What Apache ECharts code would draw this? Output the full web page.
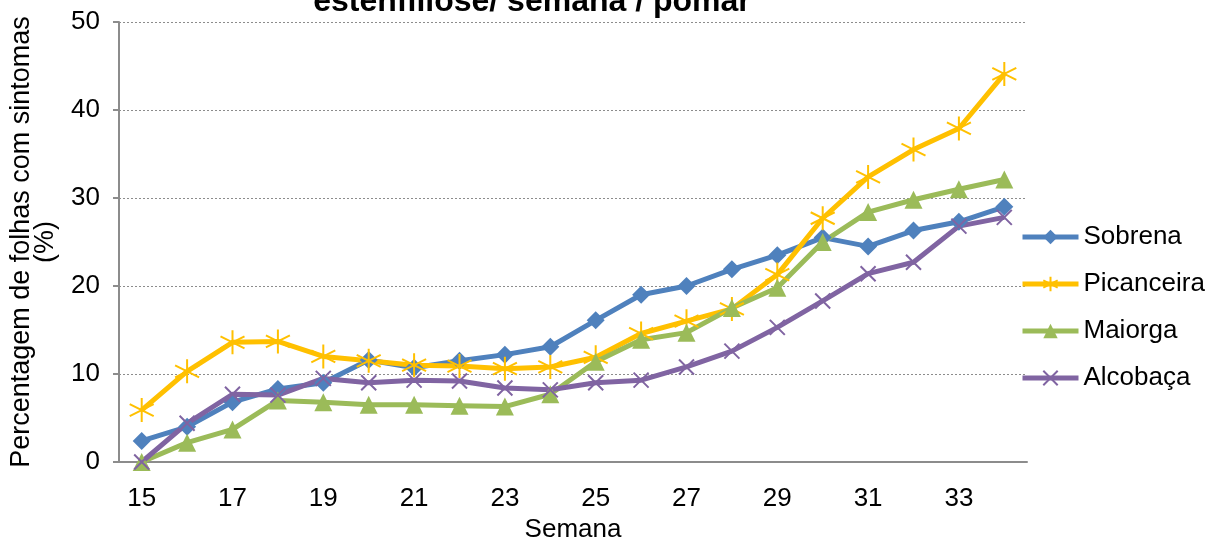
<!DOCTYPE html>
<html>
<head>
<meta charset="utf-8">
<script src="https://cdn.jsdelivr.net/npm/echarts@6/dist/echarts.min.js"></script>
<style>
  html, body { margin: 0; padding: 0; background: #fff; }
  #chart { width: 1216px; height: 538px; }
</style>
</head>
<body>
<div id="chart"></div>
<script>
// semanas 15..34
const weeks = ['15','16','17','18','19','20','21','22','23','24','25','26','27','28','29','30','31','32','33','34'];

const sobrena    = [2.4, 4.0, 6.8, 8.3, 9.0, 11.6, 10.7, 11.5, 12.2, 13.1, 16.1, 19.0, 20.0, 21.9, 23.5, 25.5, 24.5, 26.3, 27.3, 29.0];
const picanceira = [5.9, 10.3, 13.6, 13.7, 12.0, 11.5, 11.0, 10.9, 10.6, 10.8, 11.9, 14.6, 16.0, 17.4, 21.3, 27.7, 32.4, 35.5, 37.9, 44.1];
const maiorga    = [0.0, 2.2, 3.7, 7.0, 6.8, 6.5, 6.5, 6.4, 6.3, 7.7, 11.4, 13.9, 14.7, 17.5, 19.8, 25.0, 28.4, 29.8, 31.0, 32.1];
const alcobaca   = [0.0, 4.4, 7.7, 7.6, 9.5, 9.0, 9.3, 9.2, 8.4, 8.2, 9.0, 9.3, 10.8, 12.6, 15.3, 18.3, 21.4, 22.7, 26.8, 27.8];

const FONT = 'Liberation Sans, Arial, sans-serif';
const ASTERISK = 'path://M5,0L5,10M0.7,2.5L9.3,7.5M0.7,7.5L9.3,2.5';
const CROSS = 'path://M0,0L10,10M10,0L0,10';

function line(name, data, color, symbol, size, stroke) {
  return {
    name: name,
    type: 'line',
    data: data,
    symbol: symbol,
    symbolSize: size,
    showAllSymbol: true,
    lineStyle: { color: color, width: 5 },
    itemStyle: stroke
      ? { color: color, borderColor: color, borderWidth: 2 }
      : { color: color },
    emphasis: { disabled: true }
  };
}

const chart = echarts.init(document.getElementById('chart'));
chart.setOption({
  animation: false,
  textStyle: { fontFamily: FONT },
  title: {
    text: 'estenfiliose/ semana / pomar',
    left: 532,
    textAlign: 'center',
    top: -14,
    padding: 0,
    textStyle: { fontFamily: FONT, fontSize: 32, fontWeight: 'bold', color: '#000' }
  },
  legend: {
    orient: 'vertical',
    left: 1020,
    top: 224,
    padding: 0,
    itemWidth: 56,
    itemHeight: 18,
    itemGap: 21,
    lineStyle: { width: 5 },
    textStyle: { fontFamily: FONT, fontSize: 26, color: '#000' },
    data: ['Sobrena', 'Picanceira', 'Maiorga', 'Alcobaça']
  },
  grid: { left: 119, right: 189, top: 22, bottom: 76, containLabel: false, outerBoundsMode: 'none' },
  xAxis: {
    type: 'category',
    data: weeks,
    boundaryGap: true,
    name: 'Semana',
    nameLocation: 'middle',
    nameGap: 54,
    nameTextStyle: { fontFamily: FONT, fontSize: 26, color: '#000' },
    axisLine: { lineStyle: { color: '#8c8c8c', width: 2 } },
    axisTick: { alignWithLabel: true, interval: 0, length: 6, lineStyle: { color: '#8c8c8c', width: 2 } },
    axisLabel: { interval: 1, margin: 24, fontFamily: FONT, fontSize: 26, color: '#000' },
    splitLine: { show: false }
  },
  yAxis: {
    type: 'value',
    min: 0,
    max: 50,
    interval: 10,
    name: 'Percentagem de folhas com sintomas\n(%)',
    nameLocation: 'middle',
    nameGap: 61,
    nameTextStyle: { fontFamily: FONT, fontSize: 27, color: '#000', lineHeight: 24, align: 'center' },
    axisLine: { show: true, lineStyle: { color: '#8c8c8c', width: 2 } },
    axisTick: { show: true, length: 6, lineStyle: { color: '#8c8c8c', width: 2 } },
    axisLabel: { margin: 19, fontFamily: FONT, fontSize: 26, color: '#000' },
    splitLine: { show: true, lineStyle: { color: '#8c8c8c', type: [2, 2], width: 1 } }
  },
  series: [
    line('Sobrena', sobrena, '#4f81bd', 'diamond', 18, false),
    line('Picanceira', picanceira, '#ffc000', ASTERISK, 24, true),
    line('Maiorga', maiorga, '#9bbb59', 'triangle', 18, false),
    line('Alcobaça', alcobaca, '#8064a2', CROSS, 15, true)
  ]
});
</script>
</body>
</html>
